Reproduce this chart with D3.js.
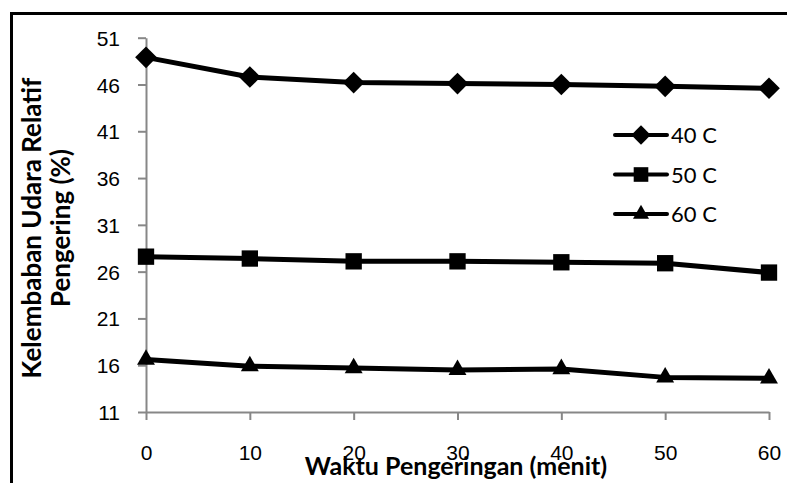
<!DOCTYPE html>
<html>
<head>
<meta charset="utf-8">
<script src="https://cdn.jsdelivr.net/npm/d3@7"></script>
<style>
  body { margin: 0; background: #fff; }
  svg { display: block; font-family: Lato, "Open Sans", sans-serif; }
  .axis path, .axis line { stroke: #878787; stroke-width: 2; }
  .axis text { font-size: 21px; fill: #000; }
</style>
</head>
<body>
<div id="chart"></div>
<script>
// chart size
const width = 787;
const height = 483;

// data
const minutes = [0, 10, 20, 30, 40, 50, 60];
const seriesNames = ['40 C', '50 C', '60 C'];
const rh40 = [48.9, 46.8, 46.2, 46.1, 46.0, 45.8, 45.6];
const rh50 = [27.6, 27.4, 27.1, 27.1, 27.0, 26.9, 25.9];
const rh60 = [16.6, 15.9, 15.7, 15.5, 15.6, 14.7, 14.6];
const yTicks = [11, 16, 21, 26, 31, 36, 41, 46, 51];
const xTicks = [0, 10, 20, 30, 40, 50, 60];
const yTitle = ['Kelembaban Udara Relatif', 'Pengering (%)'];
const xTitle = 'Waktu Pengeringan (menit)';

const markers = [d3.symbolDiamond2, d3.symbolSquare2, d3.symbolTriangle2];
const series = [rh40, rh50, rh60].map((vals, i) => ({
  name: seriesNames[i],
  symbol: markers[i],
  points: vals.map((v, j) => ({ x: minutes[j], y: v }))
}));

const plot = { left: 146, right: 769, top: 37.7, bottom: 412 };

const svg = d3.select('#chart')
  .append('svg')
  .attr('width', width)
  .attr('height', height);

// outer frame (top + left edge only visible)
svg.append('path')
  .attr('d', `M11.5,${height} V13.5 H${width}`)
  .attr('fill', 'none')
  .attr('stroke', '#000')
  .attr('stroke-width', 3);

const xScale = d3.scaleLinear().domain([0, 60]).range([plot.left, plot.right]);
const yScale = d3.scaleLinear().domain([11, 51]).range([plot.bottom, plot.top]);

// axes
svg.append('g')
  .attr('class', 'axis')
  .attr('transform', `translate(${plot.left},0)`)
  .call(d3.axisLeft(yScale).tickValues(yTicks).tickSize(8).tickPadding(18).tickSizeOuter(0))
  .call(g => g.selectAll('text').attr('dy', '0.36em'));

svg.append('g')
  .attr('class', 'axis')
  .attr('transform', `translate(0,${plot.bottom})`)
  .call(d3.axisBottom(xScale).tickValues(xTicks).tickSize(8).tickPadding(25).tickSizeOuter(0));

// lines
const line = d3.line().x(d => xScale(d.x)).y(d => yScale(d.y));

svg.append('g')
  .selectAll('path')
  .data(series)
  .join('path')
  .attr('d', d => line(d.points))
  .attr('fill', 'none')
  .attr('stroke', '#000')
  .attr('stroke-width', 5)
  .attr('stroke-linejoin', 'round');

// marker sizes (area) per symbol
function markerSize(sym, k) {
  if (sym === d3.symbolTriangle2) return 230 * k;
  if (sym === d3.symbolDiamond2) return 300 * k;
  return 340 * k;
}

series.forEach(s => {
  svg.append('g')
    .selectAll('path')
    .data(s.points)
    .join('path')
    .attr('transform', d => `translate(${xScale(d.x)},${yScale(d.y)})`)
    .attr('d', d3.symbol().type(s.symbol).size(markerSize(s.symbol, 1)))
    .attr('fill', '#000');
});

// legend
const legend = svg.append('g').attr('transform', 'translate(615,135)');
series.forEach((s, i) => {
  const g = legend.append('g').attr('transform', `translate(0,${i * 39.5})`);
  g.append('line')
    .attr('x1', 0).attr('x2', 52)
    .attr('stroke', '#000').attr('stroke-width', 4).attr('stroke-linecap', 'round');
  g.append('path')
    .attr('transform', 'translate(26,0)')
    .attr('d', d3.symbol().type(s.symbol).size(markerSize(s.symbol, 0.8)))
    .attr('fill', '#000');
  g.append('text')
    .attr('x', 56).attr('y', 8)
    .attr('font-size', 22)
    .text(s.name);
});

// axis titles
svg.append('text')
  .attr('x', 456).attr('y', 475)
  .attr('text-anchor', 'middle')
  .attr('font-size', 25).attr('font-weight', 'bold')
  .text(xTitle);

const yt = svg.append('text')
  .attr('transform', 'translate(41,228) rotate(-90)')
  .attr('text-anchor', 'middle')
  .attr('font-size', 26).attr('font-weight', 'bold');
yt.selectAll('tspan')
  .data(yTitle)
  .join('tspan')
  .attr('x', 0)
  .attr('y', (d, i) => i * 29)
  .text(d => d);
</script>
</body>
</html>
